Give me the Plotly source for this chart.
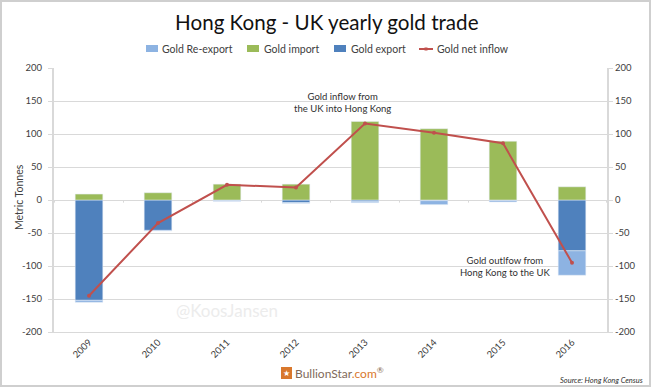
import plotly.graph_objects as go

years = ["2009", "2010", "2011", "2012", "2013", "2014", "2015", "2016"]
gold_import = [9, 11, 24, 24, 119, 108, 89, 20]
gold_export = [-152, -46, -1, -4, -2, -1, -1, -77]
gold_reexport = [-3, -1, -1, -1, -2, -6, -2, -37]
gold_net = [-145, -35, 23, 19, 116, 102, 86, -95]
axis_ticks = [200, 150, 100, 50, 0, -50, -100, -150, -200]
axis_labels = ["200", "150", "100", "50", "0", "-50", "-100", "-150", "-200"]

FONT = "Lato, Carlito, 'Open Sans', sans-serif"
GRID = "#d9d9d9"
TXT = "#404040"
C_RE, C_IM, C_EX, C_NET = "#8db3e2", "#9bbb59", "#4f81bd", "#c0504d"
W, H, L, R, T, B = 651, 387, 54, 44, 68, 55


def px(x):
    return (x - L) / (W - L - R)


def py(y):
    return (H - B - y) / (H - T - B)


fig = go.Figure()
fig.add_bar(x=years, y=gold_export, name="Gold export", marker_color=C_EX, width=0.4)
fig.add_bar(x=years, y=gold_reexport, name="Gold Re-export", marker_color=C_RE, width=0.4)
fig.add_bar(x=years, y=gold_import, name="Gold import", marker_color=C_IM, width=0.4)
fig.add_scatter(x=years, y=gold_net, name="Gold net inflow", mode="lines+markers", yaxis="y2",
                line=dict(color=C_NET, width=2), marker=dict(color=C_NET, size=4))


def prect(x0, x1, y0, y1, fill, line="rgba(0,0,0,0)", width=0):
    return dict(type="rect", xref="paper", yref="paper", x0=px(x0), x1=px(x1), y0=py(y0), y1=py(y1),
                fillcolor=fill, line=dict(color=line, width=width))


shapes = [dict(type="line", xref="x", yref="y", x0=i + 0.5, x1=i + 0.5, y0=0, y1=-4,
               line=dict(color=GRID, width=1), layer="below") for i in range(-1, 8)]
shapes += [
    prect(1, 650, 1, 386, "rgba(0,0,0,0)", "#cfcfcf", 2),
    prect(146, 158, 45, 52, C_RE),
    prect(247, 259, 45, 52, C_IM),
    prect(334, 346, 45, 52, C_EX),
    dict(type="line", xref="paper", yref="paper", x0=px(419), x1=px(433), y0=py(49), y1=py(49),
         line=dict(color=C_NET, width=2)),
    prect(424.5, 427.5, 47.5, 50.5, C_NET),
    prect(281, 292, 367, 379, "#d9782d"),
]

ann = dict(showarrow=False, font=dict(family=FONT, size=9.5, color="#303030"), align="center")


def place(text, x, y, size, color, xanchor="left", family=FONT, angle=0):
    return dict(text=text, x=px(x), y=py(y), xref="paper", yref="paper", xanchor=xanchor, yanchor="middle",
                showarrow=False, textangle=angle, font=dict(family=family, size=size, color=color))


annotations = [
    dict(ann, text="Gold inflow from<br>the UK into Hong Kong", x=3.67, y=148, xref="x", yref="y", yanchor="middle"),
    dict(ann, text="Gold outlfow from<br>Hong Kong to the UK", x=6.03, y=-100, xref="x", yref="y", yanchor="middle"),
    dict(text="@KoosJansen", x=2.0, y=-167, xref="x", yref="y", showarrow=False,
         font=dict(family=FONT, size=17, color="#ececec")),
    place("<span style='color:#7f6a5a'>BullionStar</span><span style='color:#d9782d'>.com</span><sup>®</sup>",
          293, 373, 12, "#8a6a50"),
    place("\u2605", 286.5, 373, 8, "white", "center", "DejaVu Sans"),
    place("<i>Source: Hong Kong Census</i>", 645, 380, 7.5, "#303030", "right"),
    place("Gold Re-export", 160, 49, 10.5, TXT),
    place("Gold import", 262, 49, 10.5, TXT),
    place("Gold export", 349, 49, 10.5, TXT),
    place("Gold net inflow", 435, 49, 10.5, TXT),
    place("Metric Tonnes", 19, 197, 10.5, TXT, "center", angle=-90),
]

fig.update_layout(
    width=W, height=H, barmode="relative", paper_bgcolor="white", plot_bgcolor="white",
    margin=dict(l=L, r=R, t=T, b=B, autoexpand=False),
    font=dict(family=FONT, size=9.5, color=TXT), showlegend=False,
    title=dict(text="Hong Kong - UK yearly gold trade", x=0.502, xref="container", xanchor="center",
               y=0.94, yanchor="middle", font=dict(family=FONT, size=20.6, color="#111111")),
    xaxis=dict(type="category", categoryorder="array", categoryarray=years, tickangle=-45,
               showgrid=False, ticks="", showline=True, linecolor=GRID, linewidth=1),
    yaxis=dict(range=[-200, 200], tickvals=axis_ticks, ticktext=axis_labels, showgrid=True, gridcolor=GRID,
               gridwidth=1.2, zeroline=True, zerolinecolor=GRID, zerolinewidth=1.2, showline=True, linecolor=GRID,
               linewidth=2, ticks="outside", ticklen=4, tickcolor=GRID, ticklabelstandoff=4),
    yaxis2=dict(range=[-200, 200], tickvals=axis_ticks, ticktext=axis_labels, overlaying="y", side="right",
                showgrid=False, zeroline=False, showline=True, linecolor=GRID, linewidth=2, ticks="outside",
                ticklen=4, tickcolor=GRID),
    shapes=shapes, annotations=annotations,
)
fig.write_html("out.html", config=dict(displayModeBar=False), post_script="document.body.style.margin='0';")
